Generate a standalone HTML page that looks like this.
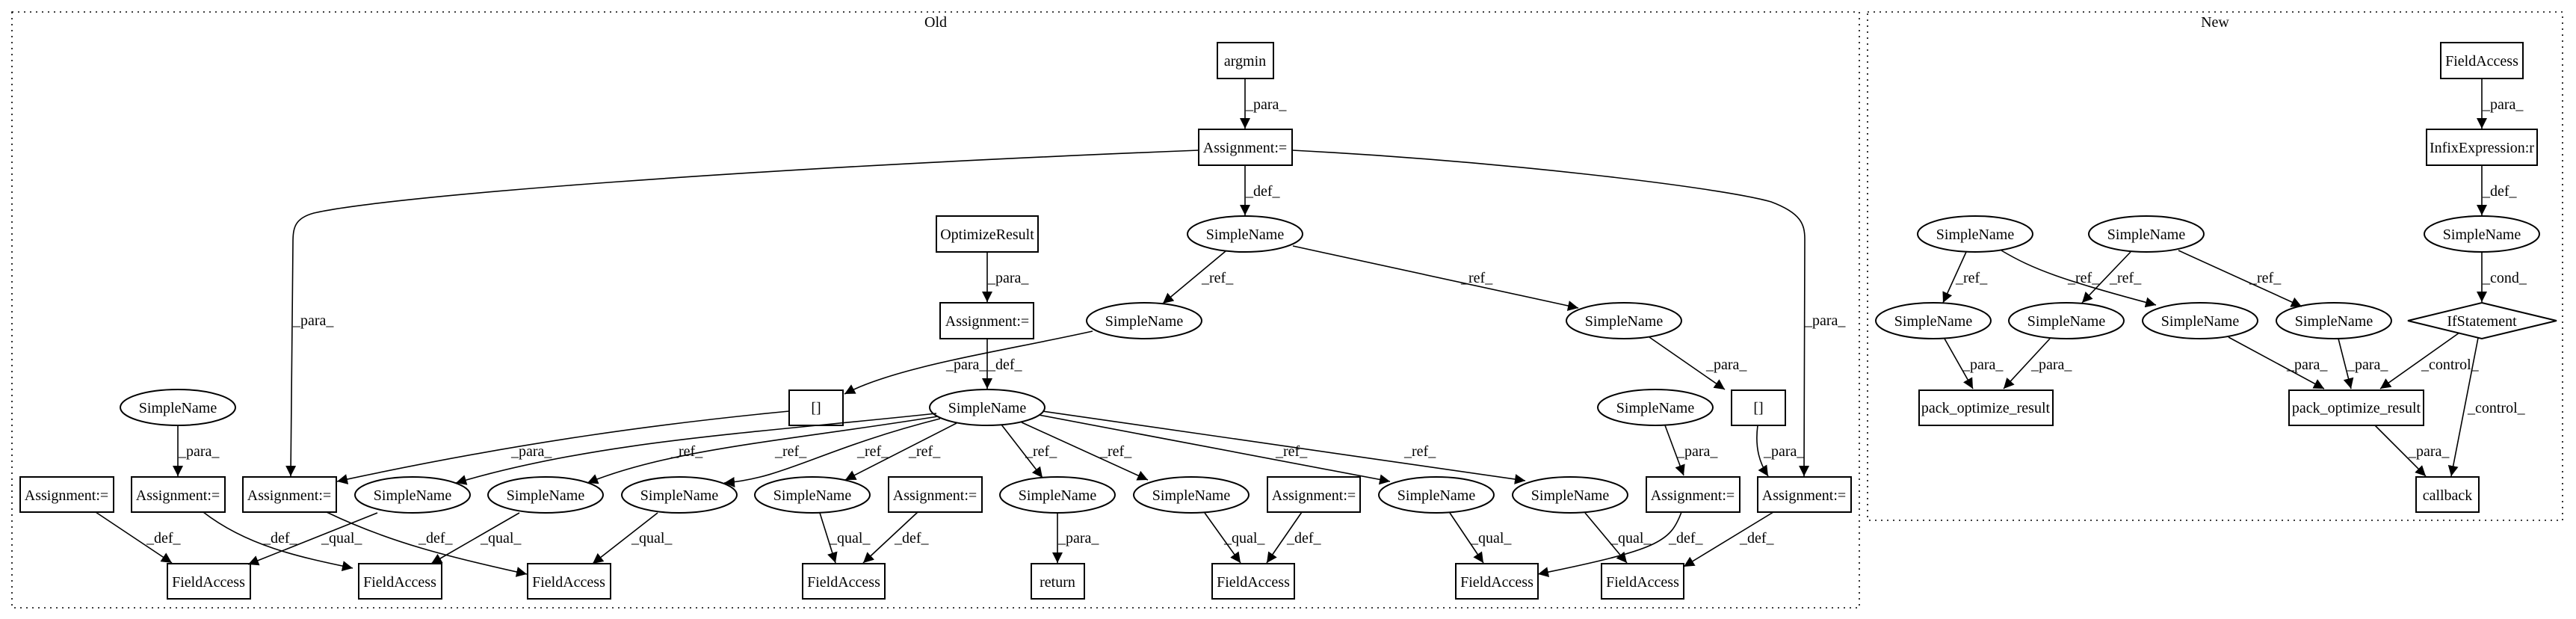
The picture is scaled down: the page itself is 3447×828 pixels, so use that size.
<!DOCTYPE html>
<html><head><meta charset="utf-8"><style>
html,body{margin:0;padding:0;background:#fff;}
svg{display:block;}
text{font-family:"Liberation Serif",serif;font-size:20px;fill:#000;}
</style></head><body>
<svg width="3447" height="828" viewBox="0 0 3447 828" xmlns="http://www.w3.org/2000/svg">
<defs>
<marker id="a" viewBox="0 0 10 10" refX="10" refY="5" markerWidth="14" markerHeight="14" markerUnits="userSpaceOnUse" orient="auto">
<path d="M0,0 L10,5 L0,10 z" fill="#000"/>
</marker>
</defs>
<g fill="none" stroke="#000" stroke-width="1.6" stroke-dasharray="2,6">
<rect x="16" y="16" width="2472" height="797"/>
<rect x="2499" y="16" width="930" height="680"/>
</g>
<text x="1252" y="36" text-anchor="middle">Old</text>
<text x="2964" y="36" text-anchor="middle">New</text>

<g fill="#fff" stroke="#000" stroke-width="2">
<!-- Old boxes -->
<rect x="1629" y="57" width="75" height="48"/>
<rect x="1604" y="173" width="125" height="48"/>
<rect x="1253" y="289" width="136" height="48"/>
<rect x="1258" y="405" width="125" height="48"/>
<rect x="1056" y="522" width="72" height="47"/>
<rect x="2317" y="522" width="72" height="47"/>
<rect x="27" y="638" width="125" height="47"/>
<rect x="176" y="638" width="125" height="47"/>
<rect x="325" y="638" width="125" height="47"/>
<rect x="1189" y="638" width="125" height="47"/>
<rect x="1696" y="638" width="124" height="47"/>
<rect x="2203" y="638" width="125" height="47"/>
<rect x="2352" y="638" width="125" height="47"/>
<rect x="224" y="754" width="111" height="47"/>
<rect x="480" y="754" width="111" height="47"/>
<rect x="706" y="754" width="111" height="47"/>
<rect x="1074" y="754" width="110" height="47"/>
<rect x="1380" y="754" width="71" height="47"/>
<rect x="1622" y="754" width="110" height="47"/>
<rect x="1948" y="754" width="110" height="47"/>
<rect x="2143" y="754" width="110" height="47"/>
<!-- Old ellipses -->
<ellipse cx="1666" cy="313" rx="77" ry="24"/>
<ellipse cx="1531" cy="429" rx="77" ry="24"/>
<ellipse cx="2173" cy="429" rx="77" ry="24"/>
<ellipse cx="238" cy="545" rx="77" ry="24"/>
<ellipse cx="1321" cy="545" rx="77" ry="24"/>
<ellipse cx="2215" cy="545" rx="77" ry="24"/>
<ellipse cx="552" cy="662" rx="77" ry="24"/>
<ellipse cx="730" cy="662" rx="77" ry="24"/>
<ellipse cx="909" cy="662" rx="77" ry="24"/>
<ellipse cx="1087" cy="662" rx="77" ry="24"/>
<ellipse cx="1415" cy="662" rx="77" ry="24"/>
<ellipse cx="1594" cy="662" rx="77" ry="24"/>
<ellipse cx="1922" cy="662" rx="77" ry="24"/>
<ellipse cx="2101" cy="662" rx="77" ry="24"/>
<!-- New -->
<rect x="3266" y="57" width="110" height="48"/>
<rect x="3247" y="173" width="148" height="48"/>
<ellipse cx="3321" cy="313" rx="77" ry="24"/>
<ellipse cx="2643" cy="313" rx="77" ry="24"/>
<ellipse cx="2872" cy="313" rx="77" ry="24"/>
<ellipse cx="2587" cy="429" rx="77" ry="24"/>
<ellipse cx="2765" cy="429" rx="77" ry="24"/>
<ellipse cx="2944" cy="429" rx="77" ry="24"/>
<ellipse cx="3123" cy="429" rx="77" ry="24"/>
<polygon points="3321,405 3421,429 3321,453 3222,429"/>
<rect x="2568" y="522" width="179" height="47"/>
<rect x="3063" y="522" width="180" height="47"/>
<rect x="3233" y="638" width="84" height="47"/>
</g>

<g fill="none" stroke="#000" stroke-width="1.6" marker-end="url(#a)">
<path d="M1666,106 L1666,172"/>
<path d="M1604,201 C1000,225 520,262 420,285 C394,292 392,305 392,325 L389,637"/>
<path d="M1666,221 L1666,288"/>
<path d="M1729,201 C2000,215 2300,250 2370,270 C2410,285 2415,300 2415,320 L2414,637"/>
<path d="M1321,337 L1321,404"/>
<path d="M1321,453 L1321,520"/>
<path d="M1640,336 L1556,406"/>
<path d="M1730,329 L2112,412"/>
<path d="M1462,443 C1340,470 1200,490 1130,527"/>
<path d="M2207,451 L2308,521"/>
<path d="M1056,550 C900,565 700,590 451,644"/>
<path d="M2352,569 C2348,600 2355,620 2366,637"/>
<!-- refs from SN5 -->
<path d="M1253,553 C1000,580 800,590 610,646"/>
<path d="M1255,557 C1050,590 900,600 786,646"/>
<path d="M1258,560 C1100,600 1050,640 969,646"/>
<path d="M1280,566 L1131,642"/>
<path d="M1340,568 L1395,639"/>
<path d="M1367,565 L1536,642"/>
<path d="M1390,555 L1860,644"/>
<path d="M1395,550 L2041,643"/>
<path d="M238,569 L238,637"/>
<path d="M2228,569 L2253,636"/>
<!-- row6 -> row7 -->
<path d="M128,685 L230,753"/>
<path d="M272,685 C330,730 400,745 472,760"/>
<path d="M437,685 C520,725 600,745 705,768"/>
<path d="M505,686 L332,755"/>
<path d="M695,686 L577,754"/>
<path d="M880,686 L793,754"/>
<path d="M1097,686 L1118,753"/>
<path d="M1228,685 L1155,753"/>
<path d="M1415,686 L1415,753"/>
<path d="M1612,686 L1660,753"/>
<path d="M1742,685 L1695,753"/>
<path d="M1940,686 L1985,753"/>
<path d="M2121,686 L2177,753"/>
<path d="M2250,685 C2235,725 2220,735 2058,768"/>
<path d="M2373,685 L2253,758"/>
<!-- New -->
<path d="M3321,106 L3321,172"/>
<path d="M3321,221 L3321,288"/>
<path d="M3321,337 L3321,404"/>
<path d="M2631,337 L2600,405"/>
<path d="M2678,335 C2720,360 2760,375 2885,408"/>
<path d="M2851,337 L2786,405"/>
<path d="M2915,335 L3080,410"/>
<path d="M2602,453 L2640,520"/>
<path d="M2743,453 L2681,520"/>
<path d="M2982,451 L3110,520"/>
<path d="M3129,453 L3146,520"/>
<path d="M3291,445 L3185,520"/>
<path d="M3316,452 L3280,637"/>
<path d="M3178,569 L3246,637"/>
</g>

<g text-anchor="middle">
<text x="1666" y="88">argmin</text>
<text x="1666" y="204">Assignment:=</text>
<text x="1321" y="320">OptimizeResult</text>
<text x="1666" y="320">SimpleName</text>
<text x="1321" y="436">Assignment:=</text>
<text x="1531" y="436">SimpleName</text>
<text x="2173" y="436">SimpleName</text>
<text x="238" y="552">SimpleName</text>
<text x="1092" y="552">[]</text>
<text x="1321" y="552">SimpleName</text>
<text x="2215" y="552">SimpleName</text>
<text x="2353" y="552">[]</text>
<text x="89" y="669">Assignment:=</text>
<text x="238" y="669">Assignment:=</text>
<text x="387" y="669">Assignment:=</text>
<text x="552" y="669">SimpleName</text>
<text x="730" y="669">SimpleName</text>
<text x="909" y="669">SimpleName</text>
<text x="1087" y="669">SimpleName</text>
<text x="1251" y="669">Assignment:=</text>
<text x="1415" y="669">SimpleName</text>
<text x="1594" y="669">SimpleName</text>
<text x="1758" y="669">Assignment:=</text>
<text x="1922" y="669">SimpleName</text>
<text x="2101" y="669">SimpleName</text>
<text x="2265" y="669">Assignment:=</text>
<text x="2414" y="669">Assignment:=</text>
<text x="279" y="785">FieldAccess</text>
<text x="535" y="785">FieldAccess</text>
<text x="761" y="785">FieldAccess</text>
<text x="1129" y="785">FieldAccess</text>
<text x="1415" y="785">return</text>
<text x="1677" y="785">FieldAccess</text>
<text x="2003" y="785">FieldAccess</text>
<text x="2198" y="785">FieldAccess</text>
<text x="3321" y="88">FieldAccess</text>
<text x="3321" y="204">InfixExpression:r</text>
<text x="3321" y="320">SimpleName</text>
<text x="2643" y="320">SimpleName</text>
<text x="2872" y="320">SimpleName</text>
<text x="2587" y="436">SimpleName</text>
<text x="2765" y="436">SimpleName</text>
<text x="2944" y="436">SimpleName</text>
<text x="3123" y="436">SimpleName</text>
<text x="3321" y="436">IfStatement</text>
<text x="2657" y="552">pack_optimize_result</text>
<text x="3153" y="552">pack_optimize_result</text>
<text x="3275" y="669">callback</text>
</g>

<g>
<text x="1667" y="146">_para_</text>
<text x="392" y="435">_para_</text>
<text x="1667" y="262">_def_</text>
<text x="2415" y="435">_para_</text>
<text x="1322" y="378">_para_</text>
<text x="1322" y="494">_def_</text>
<text x="1608" y="378">_ref_</text>
<text x="1955" y="378">_ref_</text>
<text x="1266" y="494">_para_</text>
<text x="2283" y="494">_para_</text>
<text x="684" y="610">_para_</text>
<text x="2360" y="610">_para_</text>
<text x="898" y="610">_ref_</text>
<text x="1037" y="610">_ref_</text>
<text x="1147" y="610">_ref_</text>
<text x="1216" y="610">_ref_</text>
<text x="1372" y="610">_ref_</text>
<text x="1472" y="610">_ref_</text>
<text x="1707" y="610">_ref_</text>
<text x="1879" y="610">_ref_</text>
<text x="239" y="610">_para_</text>
<text x="2244" y="610">_para_</text>
<text x="196" y="726">_def_</text>
<text x="352" y="726">_def_</text>
<text x="560" y="726">_def_</text>
<text x="430" y="726">_qual_</text>
<text x="643" y="726">_qual_</text>
<text x="845" y="726">_qual_</text>
<text x="1110" y="726">_qual_</text>
<text x="1197" y="726">_def_</text>
<text x="1416" y="726">_para_</text>
<text x="1638" y="726">_qual_</text>
<text x="1722" y="726">_def_</text>
<text x="1968" y="726">_qual_</text>
<text x="2155" y="726">_qual_</text>
<text x="2233" y="726">_def_</text>
<text x="2328" y="726">_def_</text>
<text x="3322" y="146">_para_</text>
<text x="3322" y="262">_def_</text>
<text x="3322" y="378">_cond_</text>
<text x="2617" y="378">_ref_</text>
<text x="2767" y="378">_ref_</text>
<text x="2823" y="378">_ref_</text>
<text x="3010" y="378">_ref_</text>
<text x="2626" y="494">_para_</text>
<text x="2718" y="494">_para_</text>
<text x="3060" y="494">_para_</text>
<text x="3141" y="494">_para_</text>
<text x="3240" y="494">_control_</text>
<text x="3302" y="552">_control_</text>
<text x="3223" y="610">_para_</text>
</g>
</svg>
</body></html>
